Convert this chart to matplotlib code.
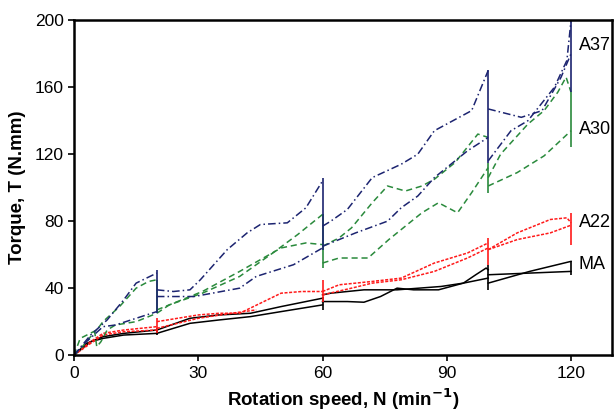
import matplotlib

matplotlib.use("Agg")

import matplotlib.pyplot as plt
import numpy as np

plt.rcParams["font.family"] = ["Liberation Sans", "DejaVu Sans"]

# each curve is a list of (speed, torque) segments: 0-20, 20-60, 60-100, 100-120
ma_a = [
    [(0, 0), (3, 7), (7, 11), (12, 13), (20, 15)],
    [(20, 15), (28, 22), (35, 24), (42.6, 25), (50, 29), (60, 34)],
    [(60, 36), (62, 37), (70, 39), (78, 39), (88.6, 41), (94, 43), (100, 46)],
    [(100, 48), (110, 49), (120, 50)],
]
ma_b = [
    [(0, 0), (4, 8), (7, 10), (12, 12), (20, 13)],
    [(20, 13), (28, 19), (35, 21), (42.6, 23), (50, 26), (60, 30)],
    [(60, 32), (66, 32), (70, 31.6), (74, 35), (78, 40), (82, 39), (88, 39), (94, 43), (97, 48), (99.5, 52), (100, 51)],
    [(100, 43), (110, 50), (120, 56)],
]
a22_a = [
    [(0, 0), (4, 8), (7, 13), (12, 15), (20, 17)],
    [(20, 20), (25, 22), (30, 24), (35, 25), (40, 25), (45, 31), (50, 37), (55, 38), (60, 38)],
    [(60, 38), (64, 42), (72, 44), (79, 46), (87, 55), (95, 61), (100, 67)],
    [(100, 63), (107, 73), (115, 81), (119, 82), (120, 79)],
]
a22_b = [
    [(0, 0), (4, 7), (7, 12), (12, 14), (20, 15)],
    [(20, 16), (30, 22), (38, 25), (44, 27)],
    [(60, 36), (67, 40), (72, 43), (79, 45), (87, 50), (95, 58), (100, 64)],
    [(100, 63), (107, 69), (115, 73), (120, 77.6)],
]
a30_a = [
    [(0, 0), (1.5, 10), (5.5, 15), (7, 20), (11, 29), (15, 40), (18, 44), (20, 45)],
    [(20, 25), (23, 30), (31, 37), (40, 47), (48, 61), (54, 72), (60, 84)],
    [(60, 65), (64, 70), (67, 76), (72, 91), (75.7, 101), (80, 98), (84, 101), (87, 105), (92, 115), (97.5, 132), (100, 130)],
    [(100, 106), (103, 120), (109.6, 138), (113.5, 146), (116.8, 157), (118.8, 166), (120, 157)],
]
a30_b = [
    [(0, 0), (2, 5), (4, 11), (5, 14), (5.5, 5), (6.5, 8), (8, 15), (10, 18), (15, 20), (20, 25)],
    [(20, 27), (25, 32), (31, 38), (40, 50), (50, 64), (56, 67), (60, 66)],
    [(60, 55), (64, 58), (71, 58), (76, 69), (84, 85), (88, 91), (92.6, 85), (96, 97), (100, 112)],
    [(100, 101), (107, 109), (113.5, 119), (120, 134)],
]
a37_a = [
    [(0, 0), (4, 12), (8, 21), (12, 33), (15, 43), (20, 49)],
    [(20, 39), (24, 38), (28, 39), (30.5, 45), (37, 63), (41.8, 73), (45, 78), (51.5, 79), (56, 88), (60, 104)],
    [(60, 77), (62, 80), (66, 87), (72, 106), (79, 114), (83, 120), (87, 134), (96, 146), (100, 170)],
    [(100, 147), (108, 142), (113, 146), (117.6, 166), (120, 180)],
]
a37_b = [
    [(0, 0), (3, 8), (7, 17), (10, 18), (15, 22), (20, 26)],
    [(20, 35), (29, 35), (40, 40), (44, 47), (53, 54), (60, 64)],
    [(60, 65), (68, 73), (75.7, 80), (79, 88), (83, 95), (87, 106), (95, 122), (100, 130)],
    [(100, 116), (105.5, 134), (109.6, 140), (116, 160), (119, 176), (120, 200)],
]

# vertical scatter bars at each holding speed: (speed, low, high)
ma_bars = [(20, 12, 16), (60, 27, 35), (100, 39, 54), (120, 48, 56)]
a22_bars = [(20, 13, 22), (60, 32, 45), (100, 54, 70), (120, 66, 85)]
a30_bars = [(20, 25, 45), (60, 52, 84), (100, 97, 115), (120, 124, 157)]
a37_bars = [(20, 25, 51), (60, 63, 106), (100, 115, 170), (120, 157, 200)]

labels = ["MA", "A22", "A30", "A37"]
label_y = [54, 79, 135, 185]


def draw(ax, curves, bars, color, ls):
    for curve in curves:
        for seg in curve:
            xs, ys = zip(*seg)
            ax.plot(xs, ys, color=color, linestyle=ls, linewidth=1.1)
    for x, lo, hi in bars:
        ax.vlines(x, lo, hi, color=color, linewidth=1.2)


fig = plt.figure(figsize=(6.14, 4.12), dpi=100)
ax = fig.add_axes([0.1205, 0.138, 0.877, 0.813])

draw(ax, [ma_a, ma_b], ma_bars, "black", "-")
draw(ax, [a22_a, a22_b], a22_bars, "#ff1a1a", (0, (2, 1)))
draw(ax, [a30_a, a30_b], a30_bars, "#2a8a3c", (0, (4, 2.5)))
draw(ax, [a37_a, a37_b], a37_bars, "#1c2470", (0, (5, 2, 1, 2)))

for lab, y in zip(labels, label_y):
    ax.text(121.8, y, lab, fontsize=13, va="center", ha="left")

ax.set_xlim(0, 130)
ax.set_ylim(0, 200)
ax.set_xticks(np.arange(0, 121, 30))
ax.set_yticks(np.arange(0, 201, 40))
ax.tick_params(labelsize=12.5, direction="out", length=4, width=1.2, top=False, right=False)
for side in ["left", "bottom", "top", "right"]:
    ax.spines[side].set_linewidth(1.8)
ax.set_xlabel("Rotation speed, N (min$^{\\mathbf{-1}}$)", fontsize=13.5, fontweight="bold", labelpad=4)
ax.set_ylabel("Torque, T (N.mm)", fontsize=13.5, fontweight="bold", labelpad=6)

fig.savefig("out.png", dpi=100)
